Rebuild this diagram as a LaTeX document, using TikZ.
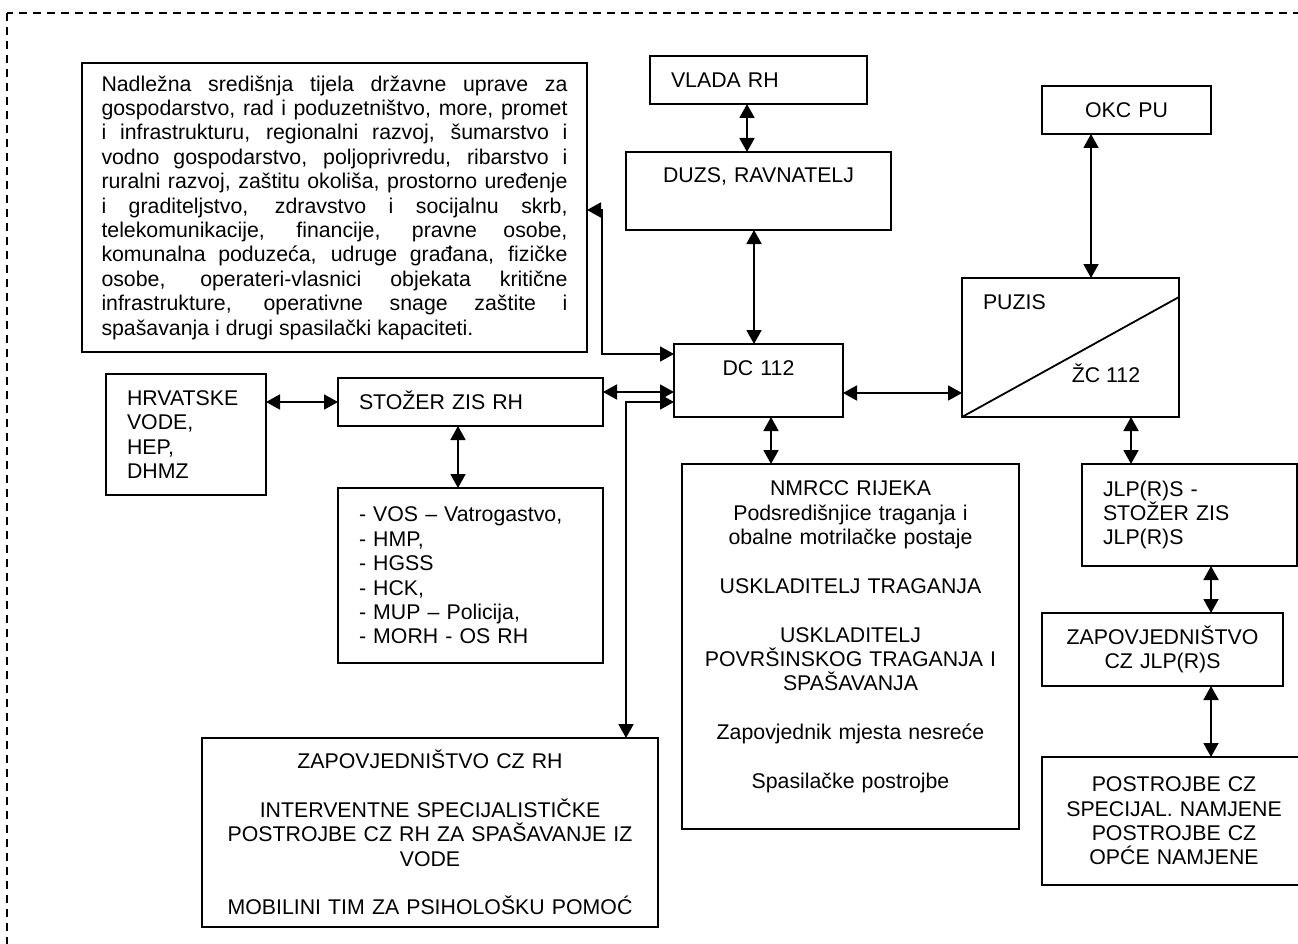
\documentclass[tikz,border=0pt]{standalone}
\usepackage{fontspec}
\setmainfont{Liberation Sans}
\usetikzlibrary{arrows.meta,positioning}

\begin{document}
\begin{tikzpicture}[
    x=1pt, y=-1pt,
    box/.style={rectangle, draw, line width=1.8pt, outer sep=0pt, inner ysep=0pt, font=\fontsize{21.3}{24.4}\selectfont},
    lbox/.style={box, inner xsep=21pt, align=left},
    cbox/.style={box, inner xsep=10pt, align=center},
    textbox/.style={box, inner xsep=19.5pt, align=justify},
    topbox/.style={text height=15.25pt, inner ysep=16.4pt},
    oneline/.style={text height=15.25pt, text depth=0pt},
    link/.style={{Triangle[length=14pt,width=15pt]}-{Triangle[length=14pt,width=15pt]}, line width=1.8pt},
    frame/.style={dash pattern=on 8pt off 6pt, line width=1.3pt}
]

\useasboundingbox (0,0) rectangle (1298,944);

% Outer frame - runs off the page right and bottom
\draw[frame] (7,13) rectangle (1330,975);

% Central column
\node[cbox, topbox, text width=149pt, text depth=24.95pt] (dc) at (758.5,380.5) {DC 112};
\node[cbox, topbox, text width=245pt, text depth=31.95pt, inner ysep=15.4pt, above=114pt of dc] (duzs) {DUZS, RAVNATELJ};
\node[lbox, oneline, text width=175pt, minimum height=48pt, above=48pt of duzs] (vlada) {VLADA RH};

% State administration bodies
\node[textbox, text width=466pt, minimum height=289pt] (nad) at (334.5,207.5) {\hyphenpenalty=10000 \exhyphenpenalty=10000 \tolerance=10000
Nadležna središnja tijela državne uprave za\linebreak
gospodarstvo, rad i poduzetništvo, more, promet\linebreak
i infrastrukturu, regionalni razvoj, šumarstvo i\linebreak
vodno gospodarstvo, poljoprivredu, ribarstvo i\linebreak
ruralni razvoj, zaštitu okoliša, prostorno uređenje\linebreak
i graditeljstvo, zdravstvo i socijalnu skrb,\linebreak
telekomunikacije, financije, pravne osobe,\linebreak
komunalna poduzeća, udruge građana, fizičke\linebreak
osobe, operateri-vlasnici objekata kritične\linebreak
infrastrukture, operativne snage zaštite i\linebreak
spašavanja i drugi spasilački kapaciteti.};

% Headquarters (left)
\node[lbox, oneline, text width=223pt, minimum height=48pt] (stozer) at (470.5,402) {STOŽER ZIS RH};
\node[lbox, text width=118pt, minimum height=121pt, left=72pt of stozer, yshift=-32.5pt] (hrv) {HRVATSKE\\VODE,\\HEP,\\DHMZ};
\node[lbox, text width=223pt, minimum height=175pt, below=62pt of stozer] (vos) {- VOS – Vatrogastvo,\\- HMP,\\- HGSS\\- HCK,\\- MUP – Policija,\\- MORH - OS RH};
\node[cbox, text width=436pt, minimum height=189pt] (zapcz) at (430,832.5) {ZAPOVJEDNIŠTVO CZ RH\\[24.4pt]INTERVENTNE SPECIJALISTIČKE\\POSTROJBE CZ RH ZA SPAŠAVANJE IZ\\VODE\\[24.4pt]MOBILINI TIM ZA PSIHOLOŠKU POMOĆ};

% Sea search and rescue
\node[cbox, topbox, text width=317pt, text depth=316.95pt, below=47pt of dc, xshift=92pt] (nmrcc) {NMRCC RIJEKA\\Podsredišnjice traganja i\\obalne motrilačke postaje\\[24.4pt]USKLADITELJ TRAGANJA\\[24.4pt]USKLADITELJ\\POVRŠINSKOG TRAGANJA I\\SPAŠAVANJA\\[24.4pt]Zapovjednik mjesta nesreće\\[24.4pt]Spasilačke postrojbe};

% County level (right)
\node[lbox, topbox, text width=175pt, text depth=90.95pt] (puzis) at (1070.5,347.5) {PUZIS};
\draw[line width=1.8pt] (puzis.south west) -- ([yshift=-19pt]puzis.north east);
\node[font=\fontsize{21.3}{24.4}\selectfont, inner sep=0pt, anchor=base] (zc) at ([xshift=-73pt, yshift=34.4pt]puzis.south east) {ŽC 112};
\node[cbox, oneline, text width=149pt, minimum height=48pt, above=144pt of puzis, xshift=56pt] (okc) {OKC PU};
\node[lbox, text width=173pt, minimum height=102pt, below=47pt of puzis, xshift=119pt] (jlp) {JLP(R)S -\\STOŽER ZIS\\JLP(R)S};
\node[cbox, text width=221pt, minimum height=73pt, below=47pt of jlp, xshift=-27pt] (zapjlp) {ZAPOVJEDNIŠTVO\\CZ JLP(R)S};
\node[cbox, text width=244pt, minimum height=128pt, below=71pt of zapjlp, xshift=11.5pt] (postr) {POSTROJBE CZ\\SPECIJAL. NAMJENE\\POSTROJBE CZ\\OPĆE NAMJENE};

% Connections - central column
\draw[link] ([xshift=-11.5pt]vlada.south) -- ([xshift=-11.5pt]duzs.north);
\draw[link] ([xshift=-4.5pt]duzs.south) -- ([xshift=-4.5pt]dc.north);
\draw[link] ([yshift=-2.5pt]nad.east) -- ++(15,0) |- ([yshift=26.5pt]dc.west);
\draw[link] ([xshift=12.5pt]dc.south) -- ([xshift=12.5pt]dc.south |- nmrcc.north);

% Connections - left side
\draw[link] ([yshift=10pt]stozer.east) -- ([yshift=10pt]stozer.east -| dc.west);
\draw[link] ([yshift=-21.5pt]dc.west) -| ([xshift=-32pt]zapcz.north east);
\draw[link] (hrv.east |- stozer.west) -- (stozer.west);
\draw[link] ([xshift=-12.5pt]stozer.south) -- ([xshift=-12.5pt]vos.north);

% Connections - right side
\draw[link] ([yshift=-12.5pt]dc.east) -- ([yshift=-12.5pt]dc.east -| puzis.west);
\draw[link] ([xshift=-35.5pt]okc.south) -- ([xshift=-35.5pt]okc.south |- puzis.north);
\draw[link] ([xshift=60.5pt]puzis.south) -- ([xshift=60.5pt]puzis.south |- jlp.north);
\draw[link] ([xshift=48.5pt]zapjlp.north |- jlp.south) -- ([xshift=48.5pt]zapjlp.north);
\draw[link] ([xshift=48.5pt]zapjlp.south) -- ([xshift=48.5pt]zapjlp.south |- postr.north);

\end{tikzpicture}
\end{document}
